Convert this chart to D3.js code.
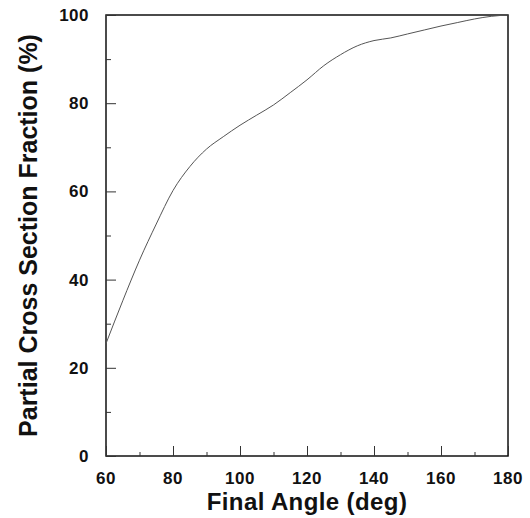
<!DOCTYPE html>
<html>
<head>
<meta charset="utf-8">
<script src="https://cdn.jsdelivr.net/npm/d3@7"></script>
<style>
  body { margin: 0; background: #fff; }
  text { font-family: "Liberation Sans", Arial, sans-serif; font-weight: bold; fill: #111; }
</style>
</head>
<body>
<script>
// curve
var angles = [60, 65, 70, 75, 80, 85, 90, 95, 100, 105, 110, 115, 120, 125, 130, 135, 140, 145, 150, 155, 160, 165, 170, 175, 180];
var fraction = [25.5, 35.2, 44.4, 52.6, 60.2, 65.6, 69.6, 72.4, 75.0, 77.3, 79.6, 82.4, 85.3, 88.5, 91.0, 93.0, 94.2, 94.8, 95.7, 96.6, 97.5, 98.3, 99.1, 99.7, 100];
var xTicks = [60, 80, 100, 120, 140, 160, 180];
var yTicks = [0, 20, 40, 60, 80, 100];

var width = 530, height = 518;
var mLeft = 106, mRight = 508, mTop = 15, mBottom = 456;

var svg = d3.select("body").append("svg")
    .attr("width", width).attr("height", height);

var x = d3.scaleLinear().domain([60, 180]).range([mLeft, mRight]);
var y = d3.scaleLinear().domain([0, 100]).range([mBottom, mTop]);

// frame
svg.append("rect")
    .attr("x", mLeft).attr("y", mTop)
    .attr("width", mRight - mLeft).attr("height", mBottom - mTop)
    .attr("fill", "none").attr("stroke", "#111").attr("stroke-width", 1.5);

// x axis, ticks pointing inward
var xAxis = svg.append("g").attr("transform", "translate(0," + mBottom + ")");
xAxis.call(d3.axisBottom(x).tickValues(d3.range(60, 181, 10)).tickSize(0).tickFormat(""));
xAxis.select(".domain").remove();
xAxis.selectAll(".tick line")
    .attr("y2", function(d) { return d % 20 === 0 ? -10 : -4; })
    .attr("stroke", "#333");
svg.selectAll(".xlab").data(xTicks).enter().append("text")
    .attr("x", function(d) { return x(d); })
    .attr("y", mBottom + 28)
    .attr("text-anchor", "middle")
    .style("font-size", "17px")
    .style("letter-spacing", "0.5px")
    .text(function(d) { return d; });

// y axis
var yAxis = svg.append("g").attr("transform", "translate(" + mLeft + ",0)");
yAxis.call(d3.axisLeft(y).tickValues(d3.range(0, 101, 10)).tickSize(0).tickFormat(""));
yAxis.select(".domain").remove();
yAxis.selectAll(".tick line")
    .attr("x2", function(d) { return d % 20 === 0 ? 10 : 5; })
    .attr("stroke", "#333");
svg.selectAll(".ylab").data(yTicks).enter().append("text")
    .attr("x", mLeft - 17)
    .attr("y", function(d) { return y(d); })
    .attr("dy", "0.35em")
    .attr("text-anchor", "end")
    .style("font-size", "17px")
    .style("letter-spacing", "0.5px")
    .text(function(d) { return d; });

// curve
var line = d3.line()
    .x(function(d, i) { return x(angles[i]); })
    .y(function(d) { return y(d); })
    .curve(d3.curveMonotoneX);
svg.append("path")
    .datum(fraction)
    .attr("d", line)
    .attr("fill", "none")
    .attr("stroke", "#555")
    .attr("stroke-width", 1);

// titles
svg.append("text")
    .attr("x", (mLeft + mRight) / 2).attr("y", 510)
    .attr("text-anchor", "middle")
    .style("font-size", "24px")
    .style("letter-spacing", "0.4px")
    .text("Final Angle (deg)");
svg.append("text")
    .attr("transform", "translate(37," + (mTop + mBottom) / 2 + ") rotate(-90)")
    .attr("text-anchor", "middle")
    .style("font-size", "25px")
    .text("Partial Cross Section Fraction (%)");
</script>
</body>
</html>
